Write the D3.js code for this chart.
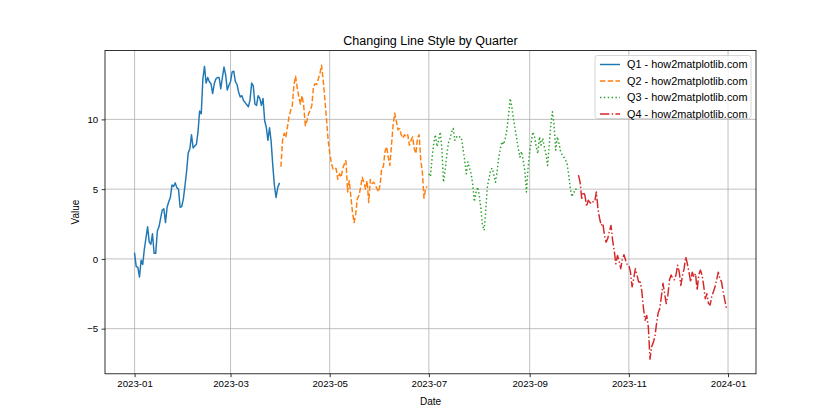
<!DOCTYPE html>
<html>
<head>
<meta charset="utf-8">
<script src="https://d3js.org/d3.v7.min.js"></script>
<style>
  body { margin: 0; background: #fff; }
  svg text { font-family: "Liberation Sans", Arial, sans-serif; fill: #000; }
</style>
</head>
<body>
<div id="chart"></div>
<script>
// daily values, one array per quarter
var quarterStarts = ["2023-01-01", "2023-04-01", "2023-07-01", "2023-10-01"];
var quarterLabels = ["Q1 - how2matplotlib.com", "Q2 - how2matplotlib.com", "Q3 - how2matplotlib.com", "Q4 - how2matplotlib.com"];
var q1 = [0.4, -0.55, -0.6, -1.3, -0.1, -0.4, 0.7, 1.5, 2.3, 1.2,
  1.05, 1.8, 0.4, 0.4, 2.0, 2.3, 2.9, 3.5, 3.6, 2.6,
  3.7, 4.1, 4.4, 5.3, 5.2, 5.45, 5.1, 5.0, 3.7, 3.75,
  4.3, 5.25, 6.3, 7.6, 7.9, 8.9, 7.95, 8.1, 8.2, 9.1,
  10.6, 10.4, 12.9, 13.8, 12.6, 13.0, 12.7, 12.55, 11.85, 12.55,
  12.9, 13.0, 13.0, 12.2, 13.0, 13.75, 13.2, 12.1, 12.45, 12.7,
  13.4, 13.45, 12.7, 12.5, 11.95, 11.6, 11.7, 11.35, 11.2, 11.05,
  10.9, 11.4, 12.6, 12.4, 11.1, 11.0, 11.7, 11.5, 11.0, 11.5,
  9.9, 9.45, 8.5, 9.4, 8.4, 6.7, 5.25, 4.4, 5.1, 5.4];
var q2 = [6.6, 8.5, 9.0, 8.7, 9.45, 10.2, 10.65, 11.0, 12.45, 13.1,
  12.3, 11.6, 11.1, 11.7, 11.0, 9.55, 9.9, 10.4, 10.65, 11.0,
  12.3, 12.55, 12.5, 12.9, 13.3, 13.89, 12.8, 11.5, 10.05, 8.6,
  7.6, 6.9, 6.45, 6.55, 6.45, 5.7, 6.1, 5.85, 6.45, 6.8,
  7.05, 4.8, 5.6, 4.5, 3.35, 2.6, 3.2, 4.3, 4.55, 5.1,
  5.85, 5.5, 5.0, 5.6, 4.05, 5.7, 5.4, 5.5, 5.3, 5.05,
  4.8, 5.3, 6.5, 6.6, 7.7, 8.05, 7.3, 6.7, 8.15, 9.6,
  10.45, 9.85, 9.25, 9.35, 8.9, 8.65, 8.9, 8.75, 8.9, 8.15,
  8.5, 8.75, 7.9, 7.55, 8.65, 8.9, 7.1, 6.2, 4.35, 5.05,
  5.2];
var q3 = [6.1, 5.9, 7.3, 8.3, 8.9, 8.05, 8.5, 9.1, 7.9, 5.5,
  6.35, 7.45, 8.3, 8.65, 9.1, 9.35, 8.5, 8.75, 8.65, 8.75,
  8.7, 7.9, 7.1, 6.1, 6.95, 6.5, 6.1, 5.3, 4.1, 4.8,
  5.15, 4.55, 3.6, 2.4, 2.05, 3.5, 5.2, 5.75, 6.4, 6.5,
  6.0, 5.5, 6.3, 7.3, 7.9, 8.4, 8.2, 8.65, 9.25, 10.3,
  11.5, 10.9, 10.05, 9.35, 8.65, 7.9, 7.3, 7.7, 7.1, 6.35,
  4.8, 6.5, 7.7, 8.4, 9.1, 8.75, 8.05, 7.55, 8.75, 8.15,
  8.65, 8.05, 7.55, 6.7, 8.15, 9.6, 10.55, 9.6, 7.8, 8.75,
  8.3, 7.7, 7.45, 7.3, 7.1, 6.85, 6.0, 5.05, 4.45, 4.8,
  4.8, 5.2];
var q4 = [6.0, 5.5, 4.35, 4.8, 4.55, 3.75, 4.2, 4.05, 3.95, 4.1,
  4.1, 4.8, 3.6, 2.9, 2.4, 2.55, 1.7, 1.2, 1.45, 1.95,
  2.4, 1.35, 0.6, -0.35, 0.25, -0.15, -0.7, 0.0, 0.3, -0.1,
  -0.4, -0.45, -0.95, -2.0, -1.4, -0.7, -1.15, -1.65, -1.65, -2.35,
  -3.55, -4.4, -4.05, -4.9, -7.18, -6.3, -6.0, -5.6, -4.65, -3.9,
  -3.55, -2.7, -1.75, -2.5, -3.2, -2.6, -1.5, -1.15, -1.4, -1.5,
  -1.15, -0.45, -0.95, -1.9, -1.15, -0.7, 0.15, -0.35, -0.95, -1.65,
  -0.95, -1.3, -1.05, -2.25, -1.15, -0.8, -1.15, -1.9, -2.85, -2.5,
  -3.2, -3.3, -2.7, -2.35, -2.0, -1.5, -0.95, -1.4, -1.65, -2.35,
  -2.95, -3.55];
var quarterValues = [q1, q2, q3, q4];
var xTickLabels = ["2023-01", "2023-03", "2023-05", "2023-07", "2023-09", "2023-11", "2024-01"];
var yTicks = [-5, 0, 5, 10];

var colors = ["#1f77b4", "#ff7f0e", "#2ca02c", "#d62728"];
var dashes = [null, "5.4,2.33", "1.46,2.4", "9.33,2.33,1.46,2.33"];

var W = 840, H = 420;
var m = { left: 105, right: 756, top: 50.4, bottom: 373.8 };

var parse = d3.timeParse("%Y-%m-%d");
var series = quarterValues.map(function (vals, i) {
  var start = parse(quarterStarts[i]);
  return vals.map(function (v, j) { return { date: d3.timeDay.offset(start, j), value: v }; });
});
var all = d3.merge(series);

var xExt = d3.extent(all, function (d) { return d.date; });
var xPad = (xExt[1] - xExt[0]) * 0.05;
var x = d3.scaleTime()
  .domain([new Date(+xExt[0] - xPad), new Date(+xExt[1] + xPad)])
  .range([m.left, m.right]);
var yExt = d3.extent(all, function (d) { return d.value; });
var yPad = (yExt[1] - yExt[0]) * 0.05;
var y = d3.scaleLinear()
  .domain([yExt[0] - yPad, yExt[1] + yPad])
  .range([m.bottom, m.top]);

var svg = d3.select("#chart").append("svg")
  .attr("width", W).attr("height", H);
svg.append("rect").attr("width", W).attr("height", H).attr("fill", "#fff");

var fmt = d3.timeFormat("%Y-%m");
var xTickDates = xTickLabels.map(function (s) { return parse(s + "-01"); });

// grid
var grid = svg.append("g");
grid.selectAll("line.gx").data(xTickDates).enter().append("line")
  .attr("x1", function (d) { return x(d); }).attr("x2", function (d) { return x(d); })
  .attr("y1", m.top).attr("y2", m.bottom)
  .attr("stroke", "#b0b0b0").attr("stroke-width", 0.8);
grid.selectAll("line.gy").data(yTicks).enter().append("line")
  .attr("y1", function (d) { return y(d); }).attr("y2", function (d) { return y(d); })
  .attr("x1", m.left).attr("x2", m.right)
  .attr("stroke", "#b0b0b0").attr("stroke-width", 0.8);

// lines
var line = d3.line()
  .x(function (d) { return x(d.date); })
  .y(function (d) { return y(d.value); });
series.forEach(function (s, i) {
  svg.append("path")
    .datum(s)
    .attr("d", line)
    .attr("fill", "none")
    .attr("stroke", colors[i])
    .attr("stroke-width", 1.46)
    .attr("stroke-dasharray", dashes[i])
    .attr("stroke-linejoin", "round")
    .attr("stroke-linecap", dashes[i] ? "butt" : "square");
});

// axes
var xAxis = d3.axisBottom(x).tickValues(xTickDates).tickFormat(fmt).tickSizeInner(3.4).tickSizeOuter(0).tickPadding(3.4);
var gx = svg.append("g").attr("transform", "translate(0," + m.bottom + ")").call(xAxis);
var yAxis = d3.axisLeft(y).tickValues(yTicks).tickFormat(d3.format("d")).tickSizeInner(3.4).tickSizeOuter(0).tickPadding(3.4);
var gy = svg.append("g").attr("transform", "translate(" + m.left + ",0)").call(yAxis);
[gx, gy].forEach(function (g) {
  g.select(".domain").remove();
  g.selectAll(".tick line").attr("stroke", "#000").attr("stroke-width", 0.8);
  g.selectAll(".tick text").attr("font-size", 9.7).attr("font-family", "Liberation Sans, sans-serif");
});

// frame
svg.append("rect")
  .attr("x", m.left).attr("y", m.top)
  .attr("width", m.right - m.left).attr("height", m.bottom - m.top)
  .attr("fill", "none").attr("stroke", "#000").attr("stroke-width", 0.8);

// labels
svg.append("text").attr("x", (m.left + m.right) / 2).attr("y", 45)
  .attr("text-anchor", "middle").attr("font-size", 12.5)
  .text("Changing Line Style by Quarter");
svg.append("text").attr("x", (m.left + m.right) / 2).attr("y", 405)
  .attr("text-anchor", "middle").attr("font-size", 10)
  .text("Date");
svg.append("text").attr("transform", "translate(79," + ((m.top + m.bottom) / 2) + ") rotate(-90)")
  .attr("text-anchor", "middle").attr("font-size", 10)
  .text("Value");

// legend
var lg = svg.append("g");
lg.append("rect")
  .attr("x", 595).attr("y", 55.5).attr("width", 156).attr("height", 63)
  .attr("rx", 2.5).attr("fill", "#fff").attr("fill-opacity", 0.8)
  .attr("stroke", "#cccccc").attr("stroke-width", 0.8);
quarterLabels.forEach(function (lab, i) {
  var yy = 64.5 + i * 16.5;
  lg.append("line")
    .attr("x1", 600).attr("x2", 620).attr("y1", yy).attr("y2", yy)
    .attr("stroke", colors[i]).attr("stroke-width", 1.46)
    .attr("stroke-dasharray", dashes[i]);
  lg.append("text").attr("x", 627).attr("y", yy + 3.8)
    .attr("font-size", 10.9).text(lab);
});
</script>
</body>
</html>
